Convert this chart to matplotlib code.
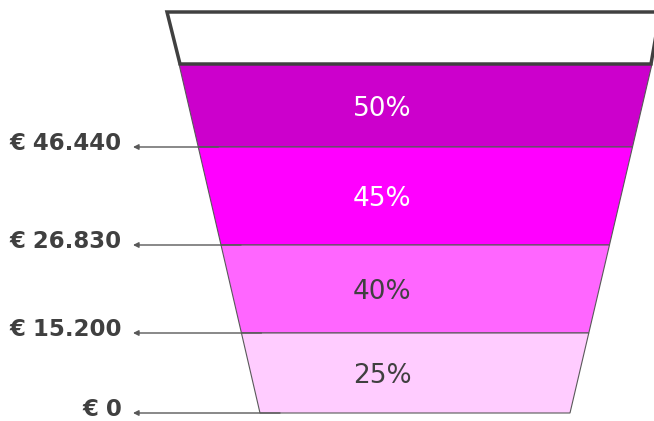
import matplotlib.pyplot as plt
from matplotlib.patches import Polygon

# tax brackets (top to bottom)
rates = ['50%', '45%', '40%', '25%']
thresholds = ['€ 46.440', '€ 26.830', '€ 15.200', '€ 0']
band_colors = ['#CC00CC', '#FF00FF', '#FF66FF', '#FFCCFF']
text_colors = ['white', 'white', '#404040', '#404040']

# layout (pixel coords, y down)
rim_top, rim_bot = 12, 64
band_y = [64, 147, 245, 333, 413]


def left_x(y):
    return 179 + (y - 64) * (260 - 179) / (413 - 64)


def right_x(y):
    return 652 - (y - 64) * (652 - 570) / (413 - 64)


fig = plt.figure(figsize=(6.54, 4.21), dpi=100)
ax = fig.add_axes([0, 0, 1, 1])
ax.set_xlim(0, 654)
ax.set_ylim(421, 0)
ax.axis('off')

# empty rim at the top
rim = Polygon([(167, rim_top), (660, rim_top), (651, rim_bot), (180, rim_bot)],
              closed=True, facecolor='white', edgecolor='#404040', lw=2.5, zorder=3)
ax.add_patch(rim)

for i, rate in enumerate(rates):
    y0, y1 = band_y[i], band_y[i + 1]
    poly = Polygon([(left_x(y0), y0), (right_x(y0), y0), (right_x(y1), y1), (left_x(y1), y1)],
                   closed=True, facecolor=band_colors[i], edgecolor='#595959', lw=0.8, zorder=2)
    ax.add_patch(poly)
    ax.text(382, (y0 + y1) / 2 + 3, rate, ha='center', va='center',
            fontsize=19, color=text_colors[i], zorder=4)

# threshold labels with arrows
for i, lab in enumerate(thresholds):
    y = band_y[i + 1]
    ax.annotate('', xy=(133, y), xytext=(left_x(y) + 20, y),
                arrowprops=dict(arrowstyle='-|>', color='#595959', lw=1,
                                mutation_scale=8, shrinkA=0, shrinkB=0), zorder=5)
    ax.text(122, y - 3, lab, ha='right', va='center', fontsize=16.5,
            fontweight='bold', color='#404040')

fig.savefig('out.png', dpi=100)
